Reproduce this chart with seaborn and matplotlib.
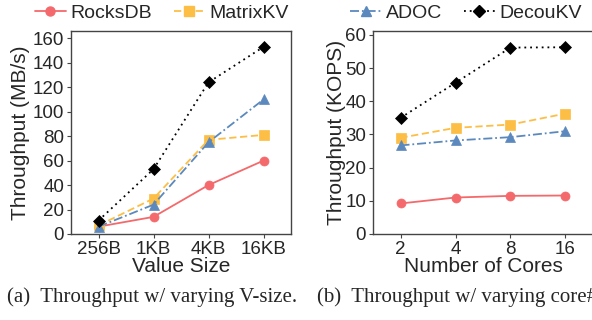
import matplotlib
matplotlib.use("Agg")
import matplotlib.pyplot as plt
import seaborn as sns
import pandas as pd
from matplotlib.lines import Line2D

sns.set_theme(style="ticks")
plt.rcParams['font.family'] = ['Liberation Sans', 'DejaVu Sans']

systems = ["RocksDB", "MatrixKV", "ADOC", "DecouKV"]
value_sizes = ["256B", "1KB", "4KB", "16KB"]
cores = ["2", "4", "8", "16"]

vsize_rocksdb = [6, 14, 40, 60]
vsize_matrixkv = [7, 29, 77, 81]
vsize_adoc = [6, 24, 75, 110]
vsize_decoukv = [11, 53, 124, 153]

cores_rocksdb = [9.2, 11.0, 11.5, 11.6]
cores_matrixkv = [29.0, 32.0, 33.0, 36.3]
cores_adoc = [26.7, 28.2, 29.2, 31.0]
cores_decoukv = [35.0, 45.6, 56.2, 56.3]

colors = {"RocksDB": "#F4696B", "MatrixKV": "#FDBE45", "ADOC": "#5B89BE", "DecouKV": "black"}
markers = {"RocksDB": "o", "MatrixKV": "s", "ADOC": "^", "DecouKV": "D"}
dashes = {"RocksDB": "", "MatrixKV": (4, 2), "ADOC": (5, 1.6, 1, 1.6), "DecouKV": (1, 2.2)}
msizes = {"RocksDB": 6.5, "MatrixKV": 6.5, "ADOC": 7, "DecouKV": 6.5}


def long_df(xcats, series):
    rows = []
    for name, vals in zip(systems, series):
        for x, v in zip(xcats, vals):
            rows.append({"x": x, "y": v, "sys": name})
    return pd.DataFrame(rows)


df_a = long_df(value_sizes, [vsize_rocksdb, vsize_matrixkv, vsize_adoc, vsize_decoukv])
df_b = long_df(cores, [cores_rocksdb, cores_matrixkv, cores_adoc, cores_decoukv])

fig = plt.figure(figsize=(5.92, 3.2), dpi=100)
ax1 = fig.add_axes([71 / 592, 1 - 234 / 320, 220 / 592, 203 / 320])
ax2 = fig.add_axes([373 / 592, 1 - 234 / 320, 220 / 592, 203 / 320])

for ax, df in [(ax1, df_a), (ax2, df_b)]:
    for name in systems:
        sub = df[df["sys"] == name]
        sns.lineplot(data=sub, x="x", y="y", ax=ax, sort=False, color=colors[name],
                     marker=markers[name], markersize=msizes[name], markeredgewidth=0.5,
                     markeredgecolor=colors[name], linewidth=1.3, legend=False,
                     dashes=False)
        line = ax.get_lines()[-1]
        if dashes[name]:
            line.set_dashes(dashes[name])
    ax.set_xlim(-0.5, 3.5)
    ax.set_xlabel("")
    for s in ax.spines.values():
        s.set_color("#444444")
        s.set_linewidth(1.0)
    ax.tick_params(axis="both", labelsize=13.5, length=3, width=0.8, color="#444444", pad=2)

ax1.set_ylim(0, 166)
ax1.set_yticks(range(0, 161, 20))
ax1.set_ylabel("Throughput (MB/s)", fontsize=15, labelpad=2)
ax1.set_xlabel("Value Size", fontsize=15, labelpad=-1)

ax2.set_ylim(0, 61.2)
ax2.set_yticks(range(0, 61, 10))
ax2.set_ylabel("Throughput (KOPS)", fontsize=15, labelpad=-1)
ax2.set_xlabel("Number of Cores", fontsize=15, labelpad=-1)


def handle(name):
    h = Line2D([], [], color=colors[name], marker=markers[name], markersize=msizes[name],
               linewidth=1.3, markeredgecolor=colors[name])
    if dashes[name]:
        h.set_dashes(dashes[name])
    return h


leg1 = fig.legend([handle(n) for n in systems[:2]], systems[:2], ncol=2, frameon=False,
                  fontsize=14, loc="center", bbox_to_anchor=(162 / 592, 1 - 13 / 320),
                  handlelength=1.6, handletextpad=0.25, columnspacing=1.1,
                  borderpad=0, borderaxespad=0)
leg2 = fig.legend([handle(n) for n in systems[2:]], systems[2:], ncol=2, frameon=False,
                  fontsize=14, loc="center", bbox_to_anchor=(466 / 592, 1 - 13 / 320),
                  handlelength=1.6, handletextpad=0.25, columnspacing=1.1,
                  borderpad=0, borderaxespad=0)

fig.text(7 / 592, 1 - 297 / 320, "(a)  Throughput w/ varying V-size.", fontsize=15,
         family=["Liberation Serif", "DejaVu Serif"], va="center", ha="left")
fig.text(317 / 592, 1 - 297 / 320, "(b)  Throughput w/ varying core#", fontsize=15,
         family=["Liberation Serif", "DejaVu Serif"], va="center", ha="left")

fig.savefig("out.png", dpi=100)
